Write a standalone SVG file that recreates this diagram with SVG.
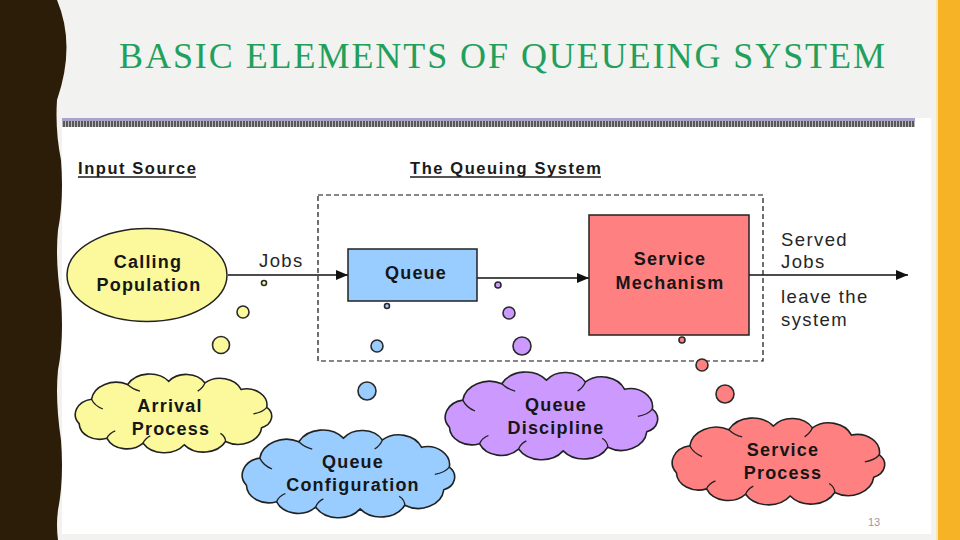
<svg xmlns="http://www.w3.org/2000/svg" xmlns:xlink="http://www.w3.org/1999/xlink" width="960" height="540" viewBox="0 0 960 540">
<style>
.lbl{font-family:"Liberation Sans",Arial,sans-serif;font-weight:700;font-size:18px;fill:#161616;text-anchor:middle;letter-spacing:1.2px}
.txt{font-family:"Liberation Sans",Arial,sans-serif;font-size:18.5px;fill:#262626;letter-spacing:1.4px}
.hdr{font-family:"Liberation Sans",Arial,sans-serif;font-weight:700;font-size:16.5px;fill:#1a1a1a}
.ul{stroke:#1a1a1a;stroke-width:1.3}
.ol{stroke:#222;stroke-width:1.5}
.yel{fill:#fbf99c}
.blu{fill:#99ccff}
.pur{fill:#cc99ff}
.red{fill:#ff8080}
.bub{stroke:#2a2a2a;stroke-width:1.6}
.conn{stroke:#111;stroke-width:1.3;fill:none}
</style>
<defs>
<marker id="arr" viewBox="0 0 12 10" refX="12" refY="5" markerWidth="12" markerHeight="10" markerUnits="userSpaceOnUse" orient="auto">
<path d="M0,0 L12,5 L0,10 Z" fill="#111"/>
</marker>
<path id="cloud" vector-effect="non-scaling-stroke" stroke="#222" stroke-width="1.6" d="M20,30 A24,24 0 0 1 55,12 A24,24 0 0 1 95,8 A21,21 0 0 1 130,10 A22,22 0 0 1 165,18 A20,20 0 0 1 190,40 A15,15 0 0 1 185,65 A23,23 0 0 1 150,82 A24,24 0 0 1 110,86 A24,24 0 0 1 70,84 A21,21 0 0 1 35,78 A20,20 0 0 1 8,60 A19,19 0 0 1 20,30 Z"/>
<path id="crease" vector-effect="non-scaling-stroke" fill="none" stroke="#222" stroke-width="1.3" d="M20,30 Q23,38 31,42 M55,12 Q60,18 67,20 M130,10 Q128,16 123,20 M190,40 Q186,46 177,48 M150,82 Q150,76 145,72 M70,84 Q72,78 77,75 M35,78 Q37,72 43,69"/>
<pattern id="stripe" width="3" height="6" patternUnits="userSpaceOnUse">
<rect width="3" height="6" fill="#b8b8b8"/>
<rect width="2" height="6" fill="#5a5a5a"/>
</pattern>
</defs>

<!-- slide background -->
<rect x="0" y="0" width="960" height="540" fill="#f2f2f0"/>
<path d="M0,0 L57,0 Q76,45 57,100 Q55,130 61,160 Q64,200 58,230 Q55,260 61,300 Q64,340 58,370 Q55,400 61,440 Q64,480 58,510 Q56,525 58,540 L0,540 Z" fill="#2b1d08"/>
<rect x="936" y="0" width="2" height="540" fill="#f7e6b8"/>
<rect x="938" y="0" width="22" height="540" fill="#f6b325"/>
<rect x="62" y="118" width="869" height="416" fill="#ffffff"/>
<rect x="62" y="118" width="853" height="3" fill="#aaa4ca"/>
<rect x="62" y="121" width="853" height="6" fill="url(#stripe)"/>

<text x="119" y="68" font-family="'Liberation Serif','Times New Roman',serif" font-size="36" fill="#22a05b" textLength="766" lengthAdjust="spacing">BASIC ELEMENTS OF QUEUEING SYSTEM</text>

<text class="hdr" x="78" y="174" textLength="118" lengthAdjust="spacing">Input Source</text>
<line class="ul" x1="78" y1="177" x2="196" y2="177"/>
<text class="hdr" x="410" y="174" textLength="191" lengthAdjust="spacing">The Queuing System</text>
<line class="ul" x1="410" y1="177" x2="601" y2="177"/>

<rect x="318" y="195" width="445" height="166" fill="none" stroke="#111" stroke-width="1.2" stroke-dasharray="5 3"/>

<g id="connectors">
<line class="conn" x1="228" y1="275" x2="348" y2="275" marker-end="url(#arr)"/>
<line class="conn" x1="477" y1="278" x2="589" y2="278" marker-end="url(#arr)"/>
<line class="conn" x1="749" y1="275" x2="908" y2="275" marker-end="url(#arr)"/>
</g>

<g id="bubbles">
<circle class="yel bub" cx="264" cy="283" r="2.5" stroke-width="1.2"/>
<circle class="yel bub" cx="243" cy="312" r="6"/>
<circle class="yel bub" cx="221" cy="345" r="8.5"/>
<circle class="blu bub" cx="387" cy="306" r="2.5" stroke-width="1.2"/>
<circle class="blu bub" cx="377" cy="346" r="6"/>
<circle class="blu bub" cx="367" cy="391" r="9"/>
<circle class="pur bub" cx="498" cy="285" r="3" stroke-width="1.2"/>
<circle class="pur bub" cx="509" cy="313" r="6"/>
<circle class="pur bub" cx="522" cy="346" r="9"/>
<circle class="red bub" cx="682" cy="340" r="3" stroke-width="1.2"/>
<circle class="red bub" cx="702" cy="365" r="6"/>
<circle class="red bub" cx="725" cy="394" r="9"/>
</g>

<g id="calling-population">
<ellipse class="yel ol" cx="147" cy="275" rx="80" ry="46.5"/>
<text class="lbl" x="148" y="268">Calling</text>
<text class="lbl" x="149" y="291">Population</text>
</g>

<g id="jobs-label">
<text class="txt" x="259" y="267">Jobs</text>
</g>

<g id="queue">
<rect class="blu ol" x="348" y="249" width="129" height="52"/>
<text class="lbl" x="416" y="279">Queue</text>
</g>

<g id="service-mechanism">
<rect class="red ol" x="589" y="215" width="160" height="120"/>
<text class="lbl" x="670" y="265">Service</text>
<text class="lbl" x="670" y="289">Mechanism</text>
</g>

<g id="served-jobs">
<text class="txt" x="781" y="246">Served</text>
<text class="txt" x="781" y="268">Jobs</text>
<text class="txt" x="781" y="303">leave the</text>
<text class="txt" x="781" y="326">system</text>
</g>

<g id="arrival-process">
<g transform="translate(70.9,374.8) scale(1.031,0.814)">
<use xlink:href="#cloud" class="yel"/>
<use xlink:href="#crease"/>
</g>
<text class="lbl" x="170" y="412">Arrival</text>
<text class="lbl" x="171" y="435">Process</text>
</g>

<g id="queue-discipline">
<g transform="translate(440.5,372.9) scale(1.115,0.907)">
<use xlink:href="#cloud" class="pur"/>
<use xlink:href="#crease"/>
</g>
<text class="lbl" x="556" y="411">Queue</text>
<text class="lbl" x="556" y="434">Discipline</text>
</g>

<g id="queue-configuration">
<g transform="translate(237.5,430.9) scale(1.115,0.907)">
<use xlink:href="#cloud" class="blu"/>
<use xlink:href="#crease"/>
</g>
<text class="lbl" x="353" y="468">Queue</text>
<text class="lbl" x="353" y="491">Configuration</text>
</g>

<g id="service-process">
<g transform="translate(667.5,418.9) scale(1.115,0.897)">
<use xlink:href="#cloud" class="red"/>
<use xlink:href="#crease"/>
</g>
<text class="lbl" x="783" y="456">Service</text>
<text class="lbl" x="783" y="479">Process</text>
</g>

<text x="868" y="526" font-family="'Liberation Sans',Arial,sans-serif" font-size="11" fill="#9a9a9a">13</text>
</svg>
